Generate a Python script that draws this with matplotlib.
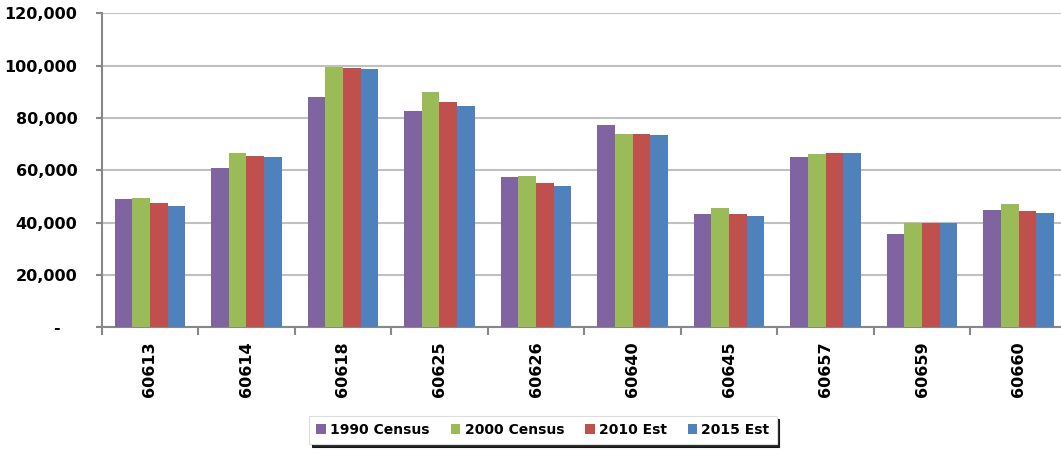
import numpy as np
import matplotlib.pyplot as plt
from matplotlib.ticker import FuncFormatter, FixedLocator

zip_codes = ['60613', '60614', '60618', '60625', '60626',
             '60640', '60645', '60657', '60659', '60660']
census_1990 = [48900, 61000, 88000, 82700, 57300, 77200, 43300, 65100, 35700, 44800]
census_2000 = [49300, 66600, 99400, 90000, 57800, 74000, 45600, 66300, 39900, 47100]
est_2010 = [47400, 65600, 99000, 86100, 55300, 74000, 43300, 66600, 39900, 44500]
est_2015 = [46400, 65100, 98600, 84600, 54100, 73600, 42600, 66600, 39900, 43700]

series = [('1990 Census', census_1990, '#8064A2'),
          ('2000 Census', census_2000, '#9BBB59'),
          ('2010 Est', est_2010, '#C0504D'),
          ('2015 Est', est_2015, '#4F81BD')]

fig = plt.figure(figsize=(10.61, 4.5), dpi=100)
ax = fig.add_axes([0.0958, 0.2727, 0.9098, 0.6978])

x = np.arange(len(zip_codes))
bar_w = 0.183
for i, (name, vals, color) in enumerate(series):
    ax.bar(x + (i - 1.5) * bar_w, vals, width=bar_w, color=color,
           label=name, zorder=3)

ax.set_xlim(-0.5, len(zip_codes) - 0.5)
ax.set_ylim(0, 120000)
ax.set_yticks(np.arange(0, 120001, 20000))


def thousands(v, pos):
    if v == 0:
        return '-   '
    return f'{int(v):,}'


ax.yaxis.set_major_formatter(FuncFormatter(thousands))
ax.grid(axis='y', color='#c0c0c0', linewidth=1.5, zorder=0)

ax.set_xticks(x)
ax.set_xticklabels(zip_codes, rotation=90, fontsize=11.5, fontweight='bold')
ax.xaxis.set_minor_locator(FixedLocator(np.arange(-0.5, len(zip_codes), 1)))
ax.tick_params(axis='x', which='major', length=0, pad=10)
ax.tick_params(axis='x', which='minor', length=6, width=1.5, color='#888888')
ax.tick_params(axis='y', length=4.5, width=1.5, color='#888888', pad=13,
               labelsize=11.5)
for lbl in ax.get_yticklabels():
    lbl.set_fontweight('bold')

for side in ['top', 'right']:
    ax.spines[side].set_visible(False)
for side in ['left', 'bottom']:
    ax.spines[side].set_color('#888888')
    ax.spines[side].set_linewidth(1.5)

leg = ax.legend(loc='center', bbox_to_anchor=(543 / 1061, 1 - 430 / 450),
                bbox_transform=fig.transFigure, ncol=4, frameon=True,
                fancybox=False, shadow={'color': 'black', 'alpha': 0.85},
                handlelength=0.7, handleheight=0.7, handletextpad=0.3,
                columnspacing=1.5, borderpad=0.5,
                prop={'size': 10, 'weight': 'bold'})
leg.get_frame().set_edgecolor('#dddddd')
leg.get_frame().set_linewidth(0.8)

fig.savefig('out.png', dpi=100)
